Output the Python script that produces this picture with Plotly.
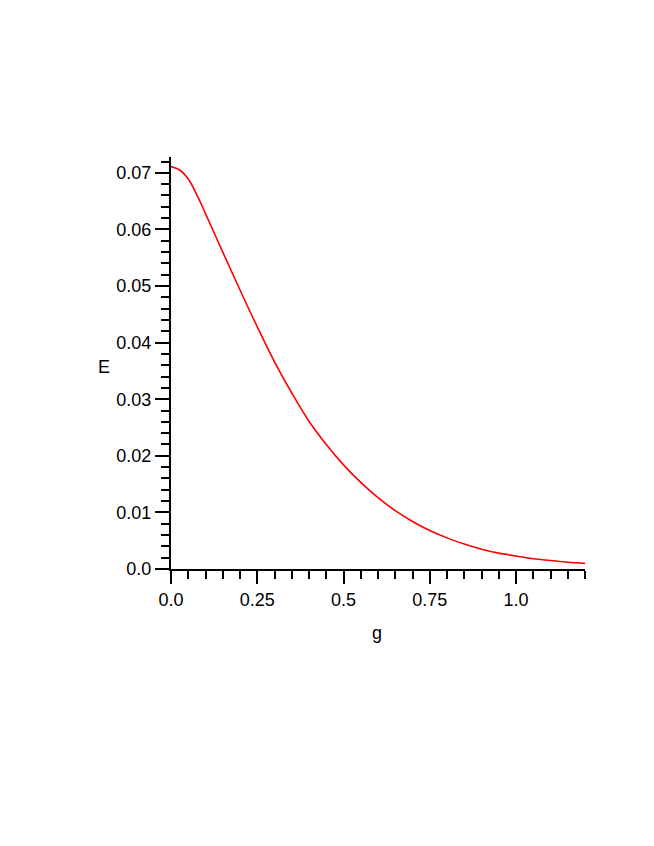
import plotly.graph_objects as go

g_vals = [0.0, 0.025, 0.05, 0.075, 0.1, 0.15, 0.2, 0.25, 0.3, 0.35, 0.4, 0.45, 0.5, 0.55, 0.6,
          0.65, 0.7, 0.75, 0.8, 0.85, 0.9, 0.95, 1.0, 1.05, 1.1, 1.15, 1.2]
e_vals = [0.0711, 0.0705, 0.0689, 0.0661, 0.0628, 0.0560, 0.0493, 0.0428, 0.0366, 0.0311, 0.0261,
          0.0220, 0.0184, 0.0153, 0.0126, 0.0103, 0.0084, 0.0068, 0.0055, 0.0044,
          0.0035, 0.0028, 0.0023, 0.0018, 0.0015, 0.0012, 0.0010]

x_ticks = [0.0, 0.25, 0.5, 0.75, 1.0]
x_labels = ["0.0", "0.25", "0.5", "0.75", "1.0"]
y_ticks = [0.0, 0.01, 0.02, 0.03, 0.04, 0.05, 0.06, 0.07]
y_labels = ["0.0", "0.01", "0.02", "0.03", "0.04", "0.05", "0.06", "0.07"]

font = {"family": "Liberation Sans, Arial, sans-serif", "size": 18, "color": "black"}

fig = go.Figure()
fig.add_trace(go.Scatter(x=g_vals, y=e_vals, mode="lines",
                         line={"color": "#ff0000", "width": 1.6, "shape": "spline", "smoothing": 1}))

fig.update_xaxes(range=[0, 1.2], showline=True, linecolor="black", linewidth=2, showgrid=False, zeroline=False,
                 tickvals=x_ticks, ticktext=x_labels, ticks="outside", ticklen=13, tickwidth=2, tickcolor="black",
                 minor={"dtick": 0.05, "tick0": 0, "ticks": "outside", "ticklen": 8, "tickwidth": 2, "tickcolor": "black", "showgrid": False},
                 tickfont=font)
fig.update_yaxes(range=[0, 0.0728], showline=True, linecolor="black", linewidth=2, showgrid=False, zeroline=False,
                 tickvals=y_ticks, ticktext=y_labels, ticks="outside", ticklen=14, tickwidth=2, tickcolor="black",
                 minor={"dtick": 0.002, "tick0": 0, "ticks": "outside", "ticklen": 8, "tickwidth": 2, "tickcolor": "black", "showgrid": False},
                 tickfont=font)

fig.add_annotation(text="E", xref="paper", yref="paper", x=-0.18, y=0.49, showarrow=False, font=font)
fig.add_annotation(text="g", xref="paper", yref="paper", x=0.4976, y=-0.185, showarrow=False, font=font)

# the page body adds an 8px margin, so the figure is drawn 8px smaller
fig.update_layout(width=646, height=838, plot_bgcolor="white", paper_bgcolor="white", showlegend=False,
                  margin={"l": 163, "r": 69, "t": 149, "b": 277})
fig.write_html("out.html")
